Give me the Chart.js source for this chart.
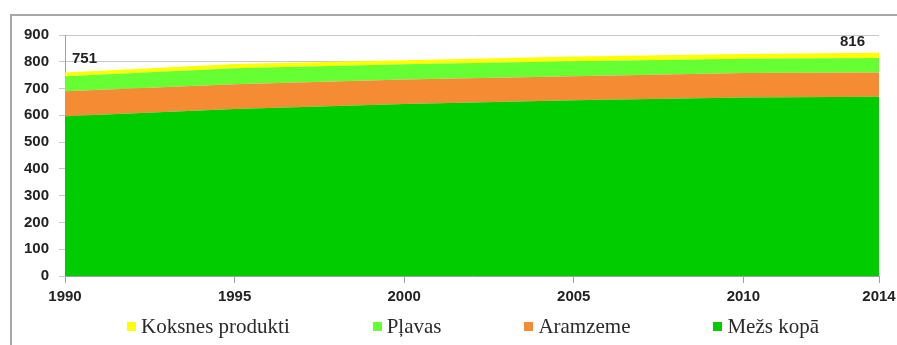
<!DOCTYPE html>
<html>
<head>
<meta charset="utf-8">
<script src="https://cdn.jsdelivr.net/npm/chart.js@4/dist/chart.umd.min.js"></script>
<style>
  html, body { margin: 0; padding: 0; background: #fff; overflow: hidden; }
  #wrap {
    position: absolute; left: 10px; top: 14px;
    width: 900px; height: 340px;
    border: 2px solid #a8a8a8; box-sizing: border-box;
  }
  #legend {
    position: absolute; left: 127px; top: 314px; width: 692px;
    display: flex; justify-content: space-between; align-items: center;
    font-family: "Liberation Serif", "Times New Roman", serif; font-size: 21px; color: #2a2a2a;
  }
  #legend .item { display: flex; align-items: center; white-space: nowrap; }
  #legend .box { width: 9px; height: 9px; margin-right: 5px; }
</style>
</head>
<body>
<div id="wrap"><canvas id="areaChart" width="896" height="336"></canvas></div>
<div id="legend"></div>

<script>
// ── Data -----------------------------------------------------------------------
const years   = [1990, 1995, 2000, 2005, 2010, 2014];
const xTicks  = [1990, 1995, 2000, 2005, 2010, 2014];

const mezsKopa   = [597, 624, 642, 656, 667, 669];
const aramzeme   = [93, 92, 92, 90, 91, 91];
const plavas     = [56, 60, 57, 56, 53, 54];
const koksnes    = [14, 16, 15, 18, 18, 20];

const seriesNames  = ['Mežs kopā', 'Aramzeme', 'Pļavas', 'Koksnes produkti'];
const seriesColors = ['#00cc00', '#f58b33', '#66ff33', '#ffff00'];

const noteYears  = [1990, 2014];
const noteLabels = ['751', '816'];

const tickFont = { family: 'Liberation Sans', size: 15, weight: 'bold' };

function toPoints(arr) {
  return arr.map((v, i) => ({ x: years[i], y: v }));
}

// small labels above the top of the stack
const noteLabelsPlugin = {
  id: 'noteLabels',
  afterDatasetsDraw(chart) {
    const { ctx, scales: { x, y } } = chart;
    const all = [mezsKopa, aramzeme, plavas, koksnes];
    ctx.save();
    ctx.font = 'bold 15px "Liberation Sans"';
    ctx.fillStyle = '#222';
    ctx.textBaseline = 'middle';
    noteYears.forEach((yr, n) => {
      const i = years.indexOf(yr);
      const top = all.reduce((s, a) => s + a[i], 0);
      const px = x.getPixelForValue(yr);
      const py = y.getPixelForValue(top);
      if (n === 0) {
        ctx.textAlign = 'left';
        ctx.fillText(noteLabels[n], px + 7, py - 14);
      } else {
        ctx.textAlign = 'right';
        ctx.fillText(noteLabels[n], px - 14, py - 11);
      }
    });
    ctx.restore();
  }
};

function drawChart() {
  const ctx = document.getElementById('areaChart').getContext('2d');
  const values = [mezsKopa, aramzeme, plavas, koksnes];

  new Chart(ctx, {
    type: 'line',
    data: {
      datasets: values.map((arr, k) => ({
        label:           seriesNames[k],
        data:            toPoints(arr),
        backgroundColor: seriesColors[k],
        borderColor:     seriesColors[k],
        borderWidth:     0,
        fill:            k === 0 ? 'origin' : '-1',
        pointRadius:     0,
        tension:         0
      }))
    },
    options: {
      responsive: false,
      animation: false,
      layout: { padding: { left: 0, right: 29, top: 9, bottom: 40 } },
      plugins: {
        legend:  { display: false },
        tooltip: { enabled: false }
      },
      scales: {
        x: {
          type: 'linear',
          min: 1990,
          max: 2014,
          afterBuildTicks: (s) => { s.ticks = xTicks.map(v => ({ value: v })); },
          afterFit: (s) => { s.height = 36; },
          grid:   { drawOnChartArea: false, drawTicks: true, tickLength: 7, color: '#a0a0a0' },
          border: { color: '#a0a0a0' },
          ticks:  {
            color: '#222', font: tickFont, padding: 5,
            maxRotation: 0, autoSkip: false,
            callback: (v) => String(v)
          }
        },
        y: {
          stacked: true,
          min: 0,
          max: 900,
          afterFit: (s) => { s.width = 53; },
          grid:   { color: '#c8c8c8', tickLength: 6 },
          border: { color: '#a0a0a0' },
          ticks:  { color: '#222', font: tickFont, stepSize: 100, padding: 10 }
        }
      }
    },
    plugins: [noteLabelsPlugin]
  });

  // legend in the reference order (top of stack first)
  const legend = document.getElementById('legend');
  for (let k = seriesNames.length - 1; k >= 0; k--) {
    const item = document.createElement('div');
    item.className = 'item';
    item.innerHTML = `<span class="box" style="background:${seriesColors[k]}"></span>${seriesNames[k]}`;
    legend.appendChild(item);
  }
}

window.addEventListener('DOMContentLoaded', drawChart);
</script>
</body>
</html>
